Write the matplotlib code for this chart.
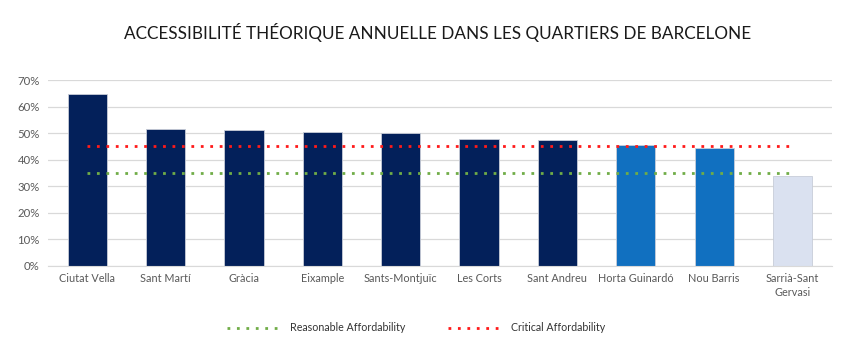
import matplotlib
matplotlib.use('Agg')
import matplotlib.pyplot as plt
from matplotlib.ticker import PercentFormatter
from matplotlib.lines import Line2D

districts = ['Ciutat Vella', 'Sant Martí', 'Gràcia', 'Eixample', 'Sants-Montjuïc',
             'Les Corts', 'Sant Andreu', 'Horta Guinardó', 'Nou Barris', 'Sarrià-Sant\nGervasi']
values = [0.647, 0.517, 0.512, 0.504, 0.501, 0.478, 0.476, 0.455, 0.444, 0.339]
bar_colors = ['#03205a'] * 7 + ['#1170c0', '#1170c0', '#dae1f0']
reasonable = 0.35
critical = 0.45

plt.rcParams['font.family'] = ['Lato', 'DejaVu Sans']

fig = plt.figure(figsize=(8.53, 3.45), dpi=100)
ax = fig.add_axes([0.0563, 0.229, 0.9187, 0.539])

x = list(range(len(districts)))
dots = (0, (1, 2.4))
ax.bar(x, values, width=0.5, color=bar_colors, edgecolor='#c8cdd8', linewidth=0.6, zorder=2)
ax.plot([x[0], x[-1]], [critical, critical], color='#ff1a1a', linestyle=dots,
        linewidth=2, zorder=3)
ax.plot([x[0], x[-1]], [reasonable, reasonable], color='#70ad47', linestyle=dots,
        linewidth=2, zorder=3)

ax.set_xlim(-0.5, len(districts) - 0.5)
ax.set_ylim(0, 0.7)
ax.set_yticks([i / 10 for i in range(8)])
ax.yaxis.set_major_formatter(PercentFormatter(1.0, decimals=0))
ax.grid(axis='y', color='#d9d9d9', linewidth=0.9, zorder=0)
ax.set_xticks(x)
ax.set_xticklabels(districts, fontsize=7.8, color='#595959', linespacing=1.3)
ax.tick_params(axis='y', labelsize=8.2, labelcolor='#595959', length=0, pad=6)
ax.tick_params(axis='x', length=0, pad=5)
for s in ['top', 'right', 'left']:
    ax.spines[s].set_visible(False)
ax.spines['bottom'].set_color('#d9d9d9')

fig.text(0.513, 0.905, 'ACCESSIBILITÉ THÉORIQUE ANNUELLE DANS LES QUARTIERS DE BARCELONE',
         ha='center', va='center', fontsize=12.3, color='#1a1a1a')

handles = [Line2D([], [], color='#70ad47', linestyle=dots, linewidth=2),
           Line2D([], [], color='#ff1a1a', linestyle=dots, linewidth=2)]
fig.legend(handles, ['Reasonable Affordability', 'Critical Affordability'],
           loc='center', bbox_to_anchor=(0.488, 0.05), ncol=2, frameon=False,
           fontsize=7.7, labelcolor='#333333', handlelength=4.7, handletextpad=1.2,
           columnspacing=4.0)

fig.savefig('out.png', dpi=100)
